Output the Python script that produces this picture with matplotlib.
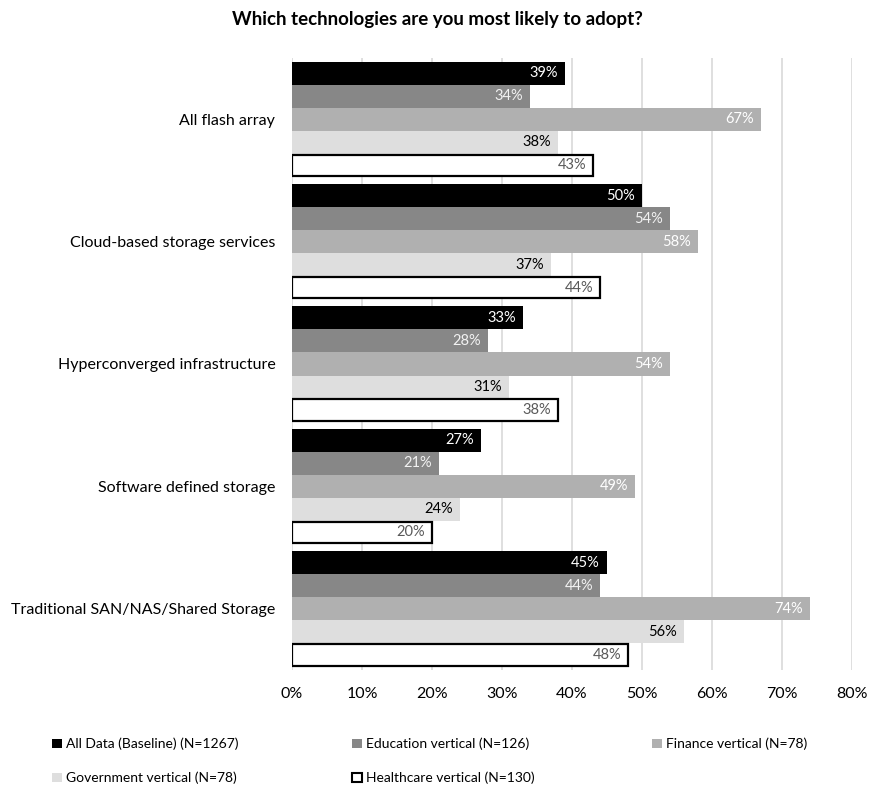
import matplotlib.pyplot as plt
import numpy as np
from matplotlib.patches import Patch

plt.rcParams['font.family'] = ['Lato', 'DejaVu Sans']

categories = ['All flash array', 'Cloud-based storage services',
              'Hyperconverged infrastructure', 'Software defined storage',
              'Traditional SAN/NAS/Shared Storage']
series = ['All Data (Baseline) (N=1267)', 'Education vertical (N=126)',
          'Finance vertical (N=78)', 'Government vertical (N=78)',
          'Healthcare vertical (N=130)']
all_data = [39, 50, 33, 27, 45]
education = [34, 54, 28, 21, 44]
finance = [67, 58, 54, 49, 74]
government = [38, 37, 31, 24, 56]
healthcare = [43, 44, 38, 20, 48]
values = [all_data, education, finance, government, healthcare]

colors = ['#000000', '#878787', '#b0b0b0', '#dedede', '#ffffff']
text_colors = ['#ffffff', '#f2f2f2', '#ffffff', '#000000', '#595959']

fig = plt.figure(figsize=(8.75, 7.89), dpi=100)
ax = fig.add_axes([292/875, 1-670/789, (852-292)/875, (670-58)/789])

y = np.arange(len(categories))
h = 0.188
for j, vals in enumerate(values):
    pos = y + (j - 2) * h
    if j == 4:
        bars = ax.barh(pos, vals, height=h*0.93, color=colors[j],
                       edgecolor='black', linewidth=1.6, zorder=3)
    else:
        bars = ax.barh(pos, vals, height=h, color=colors[j], zorder=3)
    for b, v in zip(bars, vals):
        ax.annotate(f'{v}%', (v, b.get_y() + b.get_height()/2),
                    xytext=(-5, 0), textcoords='offset points',
                    ha='right', va='center', fontsize=10.5,
                    color=text_colors[j], zorder=4)

ax.set_xlim(0, 80)
ax.set_ylim(len(categories) - 0.5, -0.5)
ax.set_xticks(range(0, 81, 10))
ax.set_xticklabels([f'{t}%' for t in range(0, 81, 10)], fontsize=11.5)
ax.set_yticks(y)
ax.set_yticklabels(categories, fontsize=11.5)
ax.tick_params(length=0, pad=12)
ax.tick_params(axis='y', pad=12)
ax.xaxis.grid(True, color='#d9d9d9', linewidth=1.2, zorder=0)
for s in ax.spines.values():
    s.set_visible(False)

fig.text(0.5, 1 - 20/789, 'Which technologies are you most likely to adopt?',
         ha='center', va='center', fontsize=13.5, fontweight='bold')

legend_pos = [(52, 744), (352, 744), (652, 744), (52, 778), (352, 778)]
for j, name in enumerate(series):
    handle = Patch(facecolor=colors[j], edgecolor='black' if j == 4 else colors[j],
                   linewidth=1.5 if j == 4 else 0)
    lx, ly = legend_pos[j]
    fig.legend([handle], [name], loc='center left',
               bbox_to_anchor=(lx/875, 1 - ly/789), frameon=False,
               handlelength=0.7, handleheight=0.7, handletextpad=0.3,
               borderpad=0, borderaxespad=0, fontsize=10)

fig.savefig('out.png', dpi=100)
